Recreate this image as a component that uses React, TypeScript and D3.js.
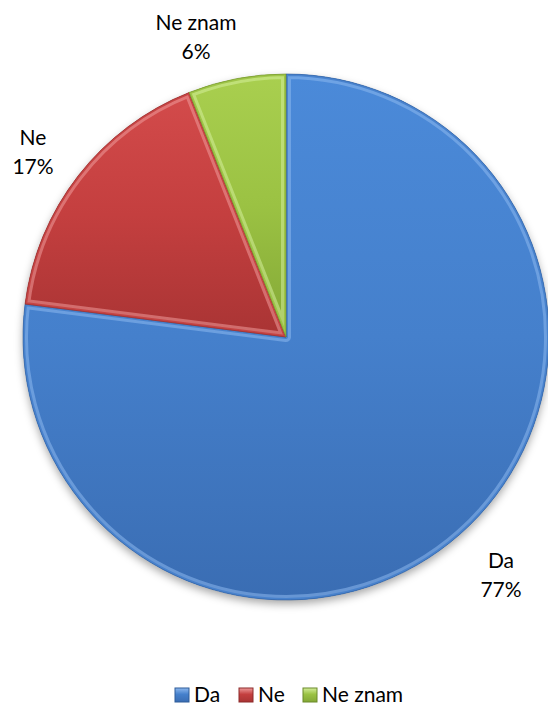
import React from "react";
import * as d3 from "d3";

const categories = ["Da", "Ne", "Ne znam"];
const values = [77, 17, 6];
const labelTexts = ["77%", "17%", "6%"];

const W = 548;
const H = 704;

const palette = [
  { top: "#4B8AD9", mid: "#4580CC", bot: "#3A6DB3", edge: "#2F5C99", hi: "#8DB8EE" },
  { top: "#D34B4B", mid: "#C43F3F", bot: "#A93434", edge: "#8C2A2A", hi: "#EE9A9A" },
  { top: "#A9CF4F", mid: "#9BC243", bot: "#83A736", edge: "#6B8A2A", hi: "#D4EE9A" },
];

// label layout (anchor centre x, first baseline y)
const labelLayout = [
  { x: 501, y: 568 },
  { x: 33, y: 145 },
  { x: 196, y: 30 },
];

export default function App() {
  const cx = 286;
  const cy = 337;
  const r = 263;
  const font = "Lato, 'Open Sans', sans-serif";

  const pie = d3
    .pie<number>()
    .sort(null)
    .value((d) => d)
    .startAngle(0)
    .endAngle(2 * Math.PI);
  const arcs = pie(values);
  const arcGen = d3.arc<d3.PieArcDatum<number>>().innerRadius(0).outerRadius(r);

  const legendX = d3.scaleOrdinal<string, number>().domain(categories).range([175, 239, 303]);

  return (
    <svg
      width={W}
      height={H}
      style={{ position: "absolute", left: 0, top: 0, background: "#fff" }}
    >
      <defs>
        <filter id="shadow" x="-20%" y="-20%" width="140%" height="140%">
          <feDropShadow dx="0" dy="4" stdDeviation="4" floodColor="#000" floodOpacity="0.35" />
        </filter>
        {palette.map((p, i) => (
          <linearGradient key={i} id={`g${i}`} x1="0" y1="0" x2="0" y2="1" gradientUnits="objectBoundingBox">
            <stop offset="0" stopColor={p.top} />
            <stop offset="0.5" stopColor={p.mid} />
            <stop offset="1" stopColor={p.bot} />
          </linearGradient>
        ))}
        {palette.map((p, i) => (
          <linearGradient key={`l${i}`} id={`lg${i}`} x1="0" y1="0" x2="0" y2="1">
            <stop offset="0" stopColor={p.hi} />
            <stop offset="0.45" stopColor={p.mid} />
            <stop offset="1" stopColor={p.bot} />
          </linearGradient>
        ))}
        {arcs.map((a, i) => (
          <clipPath key={`c${i}`} id={`clip${i}`}>
            <path d={arcGen(a) || ""} />
          </clipPath>
        ))}
      </defs>
      <g transform={`translate(${cx},${cy})`}>
        <g filter="url(#shadow)">
          {arcs.map((a, i) => (
            <path key={i} d={arcGen(a) || ""} fill={palette[i].mid} />
          ))}
        </g>
        {arcs.map((a, i) => (
          <g key={`s${i}`}>
            <path d={arcGen(a) || ""} fill={`url(#g${i})`} />
            <g clipPath={`url(#clip${i})`}>
              <path
                d={arcGen(a) || ""}
                fill="none"
                stroke={palette[i].hi}
                strokeOpacity={0.55}
                strokeWidth={10}
                strokeLinejoin="round"
              />
              <path
                d={arcGen(a) || ""}
                fill="none"
                stroke={palette[i].mid}
                strokeOpacity={0.9}
                strokeWidth={4}
                strokeLinejoin="round"
              />
            </g>
            <path
              d={arcGen(a) || ""}
              fill="none"
              stroke={palette[i].edge}
              strokeOpacity={0.6}
              strokeWidth={1}
            />
          </g>
        ))}
      </g>
      {arcs.map((a, i) => (
        <text
          key={`t${i}`}
          x={labelLayout[i].x}
          y={labelLayout[i].y}
          textAnchor="middle"
          fontFamily={font}
          fontSize={21}
          fill="#000"
        >
          <tspan x={labelLayout[i].x}>{categories[i]}</tspan>
          <tspan x={labelLayout[i].x} dy={29}>
            {labelTexts[i]}
          </tspan>
        </text>
      ))}
      {categories.map((c, i) => (
        <g key={`lg${i}`} transform={`translate(${legendX(c)},688)`}>
          <rect x={0} y={0} width={14} height={14} fill={`url(#lg${i})`} stroke={palette[i].edge} strokeWidth={1} />
          <text x={19} y={13.5} fontFamily={font} fontSize={21} fill="#000">
            {c}
          </text>
        </g>
      ))}
    </svg>
  );
}
